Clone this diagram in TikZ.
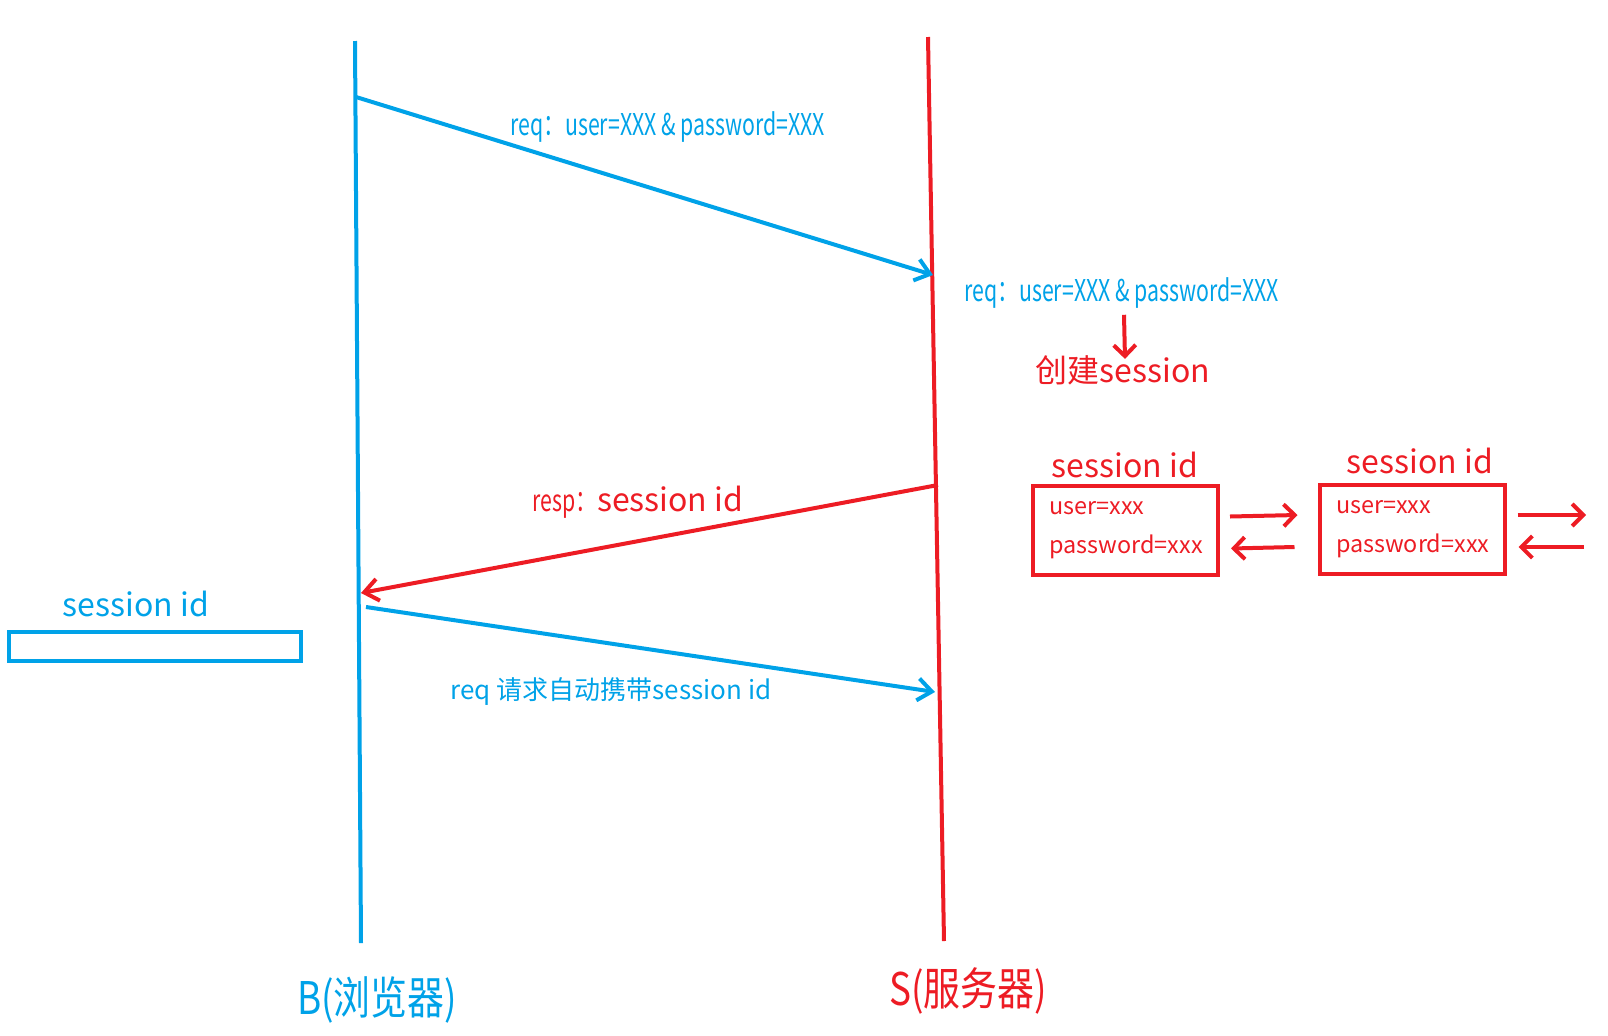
\documentclass[tikz,border=0pt]{standalone}
\usepackage{fontspec}
\setmainfont{Noto Sans CJK SC}
\newfontfamily\narrowfont[FakeStretch=0.71]{Noto Sans CJK SC}
\newfontfamily\tallfont[FakeStretch=0.82]{Noto Sans CJK SC}
\usetikzlibrary{arrows.meta,calc,positioning}
\definecolor{paintblue}{RGB}{0,162,232}
\definecolor{paintred}{RGB}{237,28,36}

\begin{document}
\begin{tikzpicture}[x=0.5pt,y=-0.5pt,
	life/.style={line width=2pt},
	msg/.style={line width=2pt,-{Straight Barb[length=7pt,width=11pt,line width=2pt]}},
	sync/.style={line width=2pt,-{Straight Barb[length=5.5pt,width=11pt,line width=2pt]}},
	store/.style={draw=paintred,line width=2pt,minimum width=92.5pt,minimum height=44.5pt,
		text width=76pt,align=left,font=\fontsize{11.7}{19.5}\selectfont,text=paintred},
	small/.style={font=\narrowfont\fontsize{15}{18}\selectfont,inner sep=1pt},
	big/.style={font=\fontsize{16}{19}\selectfont,inner sep=1pt}]
	%%%%% START %%%%%
	\useasboundingbox (0,0) rectangle (1608,1035);
	
	% lifelines
	\coordinate (btop) at (355,41);
	\coordinate (bbot) at (361,943);
	\coordinate (stop) at (928,37);
	\coordinate (sbot) at (944,941);
	\draw[life, paintblue] (btop) -- (bbot);
	\draw[life, paintred] (stop) -- (sbot);
	
	\node[font=\tallfont\fontsize{22.5}{26}\selectfont, text=paintblue] (browser) at (377,1000) {B(浏览器)};
	\node[font=\tallfont\fontsize{22.5}{26}\selectfont, text=paintred] (server) at (968,991) {S(服务器)};
	
	% login request
	\coordinate (b1) at (356,97);
	\coordinate (s1) at (933,275);
	\draw[msg, paintblue] (b1) -- (s1);
	\node[small, text=paintblue] (req1) at (668,127) {req：user=XXX \& password=XXX};
	
	\node[small, text=paintblue] (req2) at (1122,293) {req：user=XXX \& password=XXX};
	\node[big, text=paintred] (create) at (1123,370) {创建session};
	\draw[sync, paintred] ($(req2.south)+(2,4)$) -- ($(create.north)+(2,6)$);
	
	% sessions on the server
	\node[store] (store1) at (1125.5,530.5) {user=xxx\\password=xxx};
	\node[store] (store2) at (1412,529) {user=xxx\\password=xxx};
	\node[big, text=paintred] (title1) at (1125,465) {session id};
	\node[big, text=paintred] (title2) at (1420,461) {session id};
	
	\draw[sync, paintred] ($(store1.east)+(10,-14)$) -- ($(store2.west)+(-20,-14)$);
	\draw[sync, paintred] ($(store2.west)+(-23,18)$) -- ($(store1.east)+(11,18)$);
	\coordinate (out1) at (1586,515);
	\coordinate (out2) at (1584,547);
	\draw[sync, paintred] ($(store2.east)+(11,-14)$) -- (out1);
	\draw[sync, paintred] (out2) -- ($(store2.east)+(12,18)$);
	
	% response
	\coordinate (s2) at (938,485);
	\coordinate (b2) at (361,593);
	\draw[msg, paintred] (s2) -- (b2);
	\node[inner sep=1pt, text=paintred] (resp) at (638,502) {{\narrowfont\fontsize{15}{18}\selectfont resp：}{\fontsize{16}{19}\selectfont session id}};
	
	% cookie in the browser
	\node[draw=paintblue, line width=2pt, minimum width=146pt, minimum height=14.5pt] (cookie) at (155,646.5) {};
	\node[big, text=paintblue] (cookiename) at (136,604) {session id};
	
	% next request
	\coordinate (b3) at (366,607);
	\coordinate (s3) at (935,692);
	\draw[msg, paintblue] (b3) -- (s3);
	\node[font=\fontsize{13}{16}\selectfont, inner sep=1pt, text=paintblue] (req3) at (611,692) {req 请求自动携带session id};
	
	%%%%% END %%%%%
\end{tikzpicture}
\end{document}
